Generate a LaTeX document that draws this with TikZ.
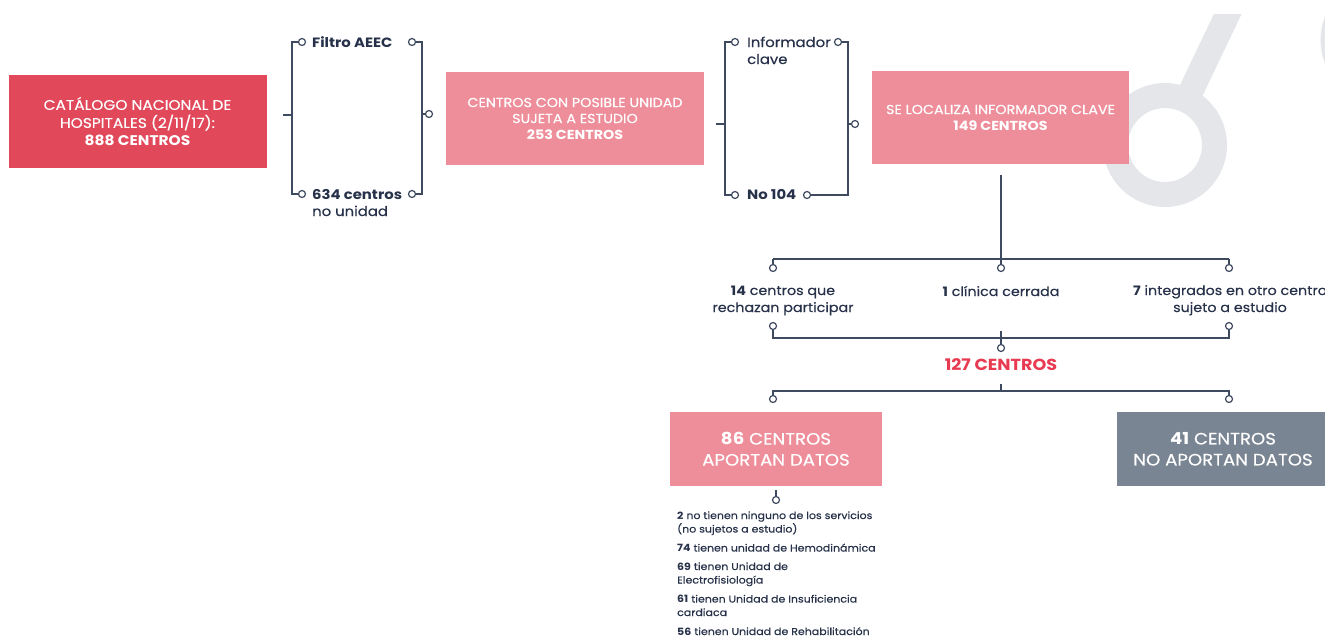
\documentclass[tikz,border=0pt]{standalone}
\usepackage{fontspec}
\setmainfont{Poppins}[FakeStretch=1.1, UprightFeatures={FakeBold=0.4}]
\definecolor{navy}{HTML}{27324A}
\definecolor{linec}{HTML}{3E4A5F}
\definecolor{redbox}{HTML}{E1495B}
\definecolor{pinkbox}{HTML}{EE8E9A}
\definecolor{graybox}{HTML}{7A8593}
\definecolor{redtext}{HTML}{E83B52}
\definecolor{decoc}{HTML}{E5E6EA}
\begin{document}
\begin{tikzpicture}[x=1pt,y=-1pt,
  conn/.style={draw=linec, line width=1.5pt},
  dot/.style={circle, draw=linec, line width=1.2pt, fill=white, inner sep=0pt, minimum size=7pt},
  box/.style={rectangle, inner sep=0pt, align=center, text=white},
  lbl/.style={text=navy, inner sep=0pt, font=\fontsize{13}{17}\selectfont},
  decoline/.style={draw=decoc, line width=25pt}]
\useasboundingbox (0,0) rectangle (1325,637);
\clip (0,0) rectangle (1325,637);
% decoration
\begin{scope}
\clip (0,14) rectangle (1325,637);
\draw[decoline] (1165,145) circle[radius=49.5pt];
\draw[decoline] (1186.5,100.4) -- (1233,3);
\draw[decoline] (1385,40) circle[radius=52pt];
\end{scope}
% boxes
\node[box, fill=redbox, minimum width=258pt, minimum height=93pt, font=\fontsize{14}{18}\selectfont] (cat) at (137.5,121.5) {CATÁLOGO NACIONAL DE\\HOSPITALES (2/11/17):\\\textbf{888 CENTROS}};
\node[box, fill=pinkbox, minimum width=258pt, minimum height=93pt, font=\fontsize{13}{16}\selectfont] (posible) at (575,118.5) {CENTROS CON POSIBLE UNIDAD\\SUJETA A ESTUDIO\\\textbf{253 CENTROS}};
\node[box, fill=pinkbox, minimum width=257pt, minimum height=93pt, font=\fontsize{13}{16}\selectfont] (localiza) at (1000.5,117.5) {SE LOCALIZA INFORMADOR CLAVE\\\textbf{149 CENTROS}};
\node[box, fill=pinkbox, minimum width=212pt, minimum height=74pt, font=\fontsize{16.5}{21}\selectfont] (aportan) at (776,449) {\textbf{86} CENTROS\\APORTAN DATOS};
\node[box, fill=graybox, minimum width=212pt, minimum height=74pt, font=\fontsize{16.5}{21}\selectfont] (noaportan) at (1223,449) {\textbf{41} CENTROS\\NO APORTAN DATOS};
% bracket 1
\coordinate (b1tl) at (292,42);
\coordinate (b1bl) at (292,194);
\coordinate (b1tr) at (422,42);
\coordinate (b1br) at (422,194);
\coordinate (b1lm) at (292,115);
\coordinate (b1ls) at (283,115);
\coordinate (b1rm) at (422,114);
\node[dot] (c1a) at (302,42) {};
\node[dot] (c1b) at (412,42) {};
\node[dot] (c1c) at (302,194) {};
\node[dot] (c1d) at (412,194) {};
\node[dot] (c1e) at (429,114) {};
\draw[conn] (c1a.west) -- (b1tl) -- (b1bl) -- (c1c.west);
\draw[conn] (c1b.east) -- (b1tr) -- (b1br) -- (c1d.east);
\draw[conn] (b1ls) -- (b1lm);
\draw[conn] (b1rm) -- (c1e.west);
\node[lbl, anchor=base west, font=\fontsize{13.5}{17}\selectfont\bfseries] (filtro) at (312,47) {Filtro AEEC};
\node[lbl, anchor=base west, align=left, font=\fontsize{13.5}{17}\selectfont] (n634) at (312,216) {\textbf{634 centros}\\no unidad};
% bracket 2
\coordinate (b2tl) at (725,42);
\coordinate (b2bl) at (725,195);
\coordinate (b2tr) at (848,42);
\coordinate (b2br) at (848,195);
\coordinate (b2lm) at (725,124);
\coordinate (b2ls) at (716,124);
\coordinate (b2rm) at (848,124);
\node[dot] (c2a) at (735,42) {};
\node[dot] (c2b) at (838,42) {};
\node[dot] (c2c) at (735,195) {};
\node[dot] (c2d) at (807,195) {};
\node[dot] (c2e) at (855,124) {};
\draw[conn] (c2a.west) -- (b2tl) -- (b2bl) -- (c2c.west);
\draw[conn] (c2b.east) -- (b2tr) -- (b2br) -- (c2d.east);
\draw[conn] (b2ls) -- (b2lm);
\draw[conn] (b2rm) -- (c2e.west);
\node[lbl, anchor=base west, align=left, font=\fontsize{13.5}{17}\selectfont] (inf) at (747,64) {Informador\\clave};
\node[lbl, anchor=base west, font=\fontsize{13.5}{17}\selectfont\bfseries] (no104) at (747,199) {No 104};
% tree 1
\coordinate (v3top) at (1001,175);
\coordinate (t1l) at (773,259);
\coordinate (t1c) at (1001,259);
\coordinate (t1r) at (1229,259);
\node[dot] (d1l) at (773,268) {};
\node[dot] (d1c) at (1001,268) {};
\node[dot] (d1r) at (1229,268) {};
\draw[conn] (v3top) -- (t1c);
\draw[conn] (t1l) -- (t1r);
\draw[conn] (t1l) -- (d1l.north);
\draw[conn] (t1c) -- (d1c.north);
\draw[conn] (t1r) -- (d1r.north);
\node[lbl, anchor=base, align=center] (l14) at (783,312) {\textbf{14} centros que\\rechazan participar};
\node[lbl, anchor=base, align=center] (l1) at (1001,296) {\textbf{1} clínica cerrada};
\node[lbl, anchor=base, align=center] (l7) at (1230,312) {\textbf{7} integrados en otro centro\\sujeto a estudio};
% tree 2
\node[dot] (d2l) at (773,326) {};
\node[dot] (d2r) at (1229,326) {};
\coordinate (t2l) at (773,338);
\coordinate (t2r) at (1229,338);
\coordinate (t2ct) at (1001,331);
\node[dot] (d2c) at (1001,348) {};
\draw[conn] (d2l.south) -- (t2l) -- (t2r) -- (d2r.south);
\draw[conn] (t2ct) -- (d2c.north);
\node[inner sep=0pt, text=redtext, font=\fontsize{16}{17}\selectfont\bfseries] (n127) at (1001,365) {127 CENTROS};
% tree 3
\coordinate (t3ct) at (1001,384);
\coordinate (t3c) at (1001,391);
\coordinate (t3l) at (773,391);
\coordinate (t3r) at (1229,391);
\node[dot] (d3l) at (773,399) {};
\node[dot] (d3r) at (1229,399) {};
\draw[conn] (t3ct) -- (t3c);
\draw[conn] (d3l.north) -- (t3l) -- (t3r) -- (d3r.north);
% below box 4
\coordinate (s4) at (776,490);
\node[dot] (d4) at (776,500) {};
\draw[conn] (s4) -- (d4.north);
\node[lbl, anchor=base west, align=left, font=\fontsize{10}{13.5}\selectfont] (list) at (677,635) {\textbf{2} no tienen ninguno de los servicios\\(no sujetos a estudio)\\[5.5pt]\textbf{74} tienen unidad de Hemodinámica\\[5pt]\textbf{69} tienen Unidad de\\Electrofisiología\\[5.5pt]\textbf{61} tienen Unidad de Insuficiencia\\cardiaca\\[5.5pt]\textbf{56} tienen Unidad de Rehabilitación};
\end{tikzpicture}
\end{document}
